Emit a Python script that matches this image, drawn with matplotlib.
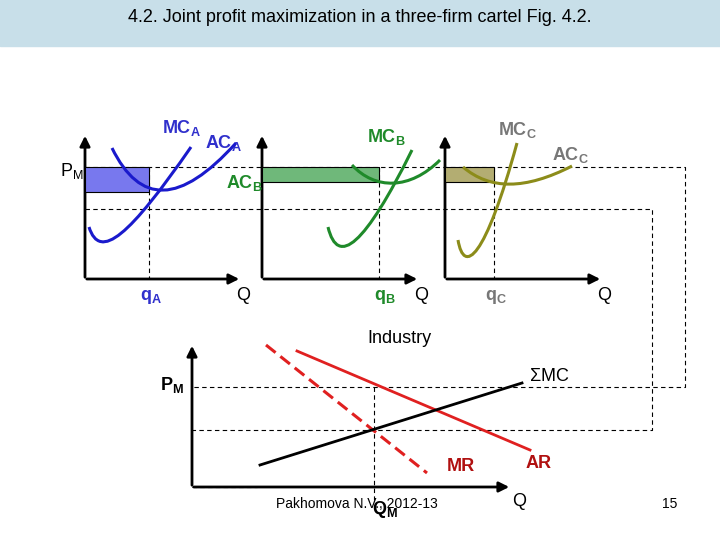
import matplotlib
matplotlib.use("Agg")
import matplotlib.pyplot as plt
from matplotlib.path import Path
from matplotlib.patches import PathPatch, Rectangle

plt.rcParams["font.family"] = ["Liberation Sans", "DejaVu Sans"]
plt.rcParams["mathtext.fontset"] = "custom"
plt.rcParams["mathtext.rm"] = "Liberation Sans"
plt.rcParams["mathtext.bf"] = "Liberation Sans:bold"

# diagram coordinates (pixels on a 720x540 slide, y downwards)
title = "4.2. Joint profit maximization in a three-firm cartel Fig. 4.2."
pm_y = 167
mc_y = 209

# firm panels: y-axis x, x-axis end, q position, box bottom, colors
firm_axis_x = [85, 262, 445]
firm_axis_end = [242, 420, 603]
firm_q = [149, 379, 494]
firm_box_bottom = [192, 182, 182]
firm_line_col = ["#1a1acc", "#1f8a2a", "#8c8c1a"]
firm_box_col = ["#7878ee", "#6fb87a", "#b3ad72"]
# cubic bezier control points: start, c1, c2, end
mc_curves = [
    [(89, 227), (100, 262), (130, 235), (191, 147)],
    [(328, 227), (338, 268), (365, 245), (412, 150)],
    [(458, 240), (464, 275), (485, 260), (517, 143)],
]
ac_curves = [
    [(112, 148), (140, 205), (180, 205), (236, 143)],
    [(352, 165), (375, 190), (410, 190), (440, 160)],
    [(463, 167), (490, 190), (525, 190), (572, 166)],
]

# industry panel
ind_axis_x = 192
ind_axis_y = 487
ind_pm_y = 387
ind_mc_y = 430
qm_x = 374
ar_line = ([297, 530], [351, 450])
mr_line = ([266, 427], [345, 473])
smc_line = ([260, 522], [465, 383])

fig = plt.figure(figsize=(7.2, 5.4), dpi=100)
ax = fig.add_axes([0, 0, 1, 1])
ax.set_xlim(0, 720)
ax.set_ylim(540, 0)
ax.axis("off")

ax.add_patch(Rectangle((0, 0), 720, 46, color="#c8dfe9", zorder=0))
ax.text(360, 18, title, ha="center", va="center", fontsize=13)

dash = dict(color="black", lw=0.8, ls=(0, (4, 3)))
arrow = dict(arrowstyle="-|>,head_length=0.6,head_width=0.3", color="black", lw=2)


def axes_arrows(x0, y0, x1, ytop):
    ax.annotate("", xy=(x0, ytop), xytext=(x0, y0 + 1), arrowprops=arrow)
    ax.annotate("", xy=(x1, y0), xytext=(x0 - 1, y0), arrowprops=arrow)


def bezier(pts, col):
    path = Path(pts, [Path.MOVETO, Path.CURVE4, Path.CURVE4, Path.CURVE4])
    ax.add_patch(PathPatch(path, fc="none", ec=col, lw=2.2, zorder=4))


# long dashed guide lines
ax.plot([85, 685, 685, ind_axis_x], [pm_y, pm_y, ind_pm_y, ind_pm_y], **dash)
ax.plot([85, 652, 652, ind_axis_x], [mc_y, mc_y, ind_mc_y, ind_mc_y], **dash)

for i in range(3):
    x0 = firm_axis_x[i]
    axes_arrows(x0, 279, firm_axis_end[i], 133)
    ax.add_patch(Rectangle((x0, pm_y), firm_q[i] - x0, firm_box_bottom[i] - pm_y,
                           fc=firm_box_col[i], ec="black", lw=0.8, zorder=3))
    ax.plot([firm_q[i], firm_q[i]], [pm_y, 279], **dash)
    bezier(ac_curves[i], firm_line_col[i])
    bezier(mc_curves[i], firm_line_col[i])

fs = 13
ax.text(162, 133, r"MC$_{\mathbf{A}}$", color="#3030cc", fontsize=fs, fontweight="bold")
ax.text(205, 148, r"AC$_{\mathbf{A}}$", color="#3030cc", fontsize=fs, fontweight="bold")
ax.text(226, 188, r"AC$_{\mathbf{B}}$", color="#1f8a2a", fontsize=fs, fontweight="bold")
ax.text(367, 142, r"MC$_{\mathbf{B}}$", color="#1f8a2a", fontsize=fs, fontweight="bold")
ax.text(498, 135, r"MC$_{\mathbf{C}}$", color="#777777", fontsize=fs, fontweight="bold")
ax.text(552, 160, r"AC$_{\mathbf{C}}$", color="#777777", fontsize=fs, fontweight="bold")
ax.text(60, 176, r"P$_{\rm M}$", fontsize=fs)
ax.text(140, 300, r"q$_{\mathbf{A}}$", color="#3030cc", fontsize=fs, fontweight="bold")
ax.text(374, 300, r"q$_{\mathbf{B}}$", color="#1f8a2a", fontsize=fs, fontweight="bold")
ax.text(485, 300, r"q$_{\mathbf{C}}$", color="#777777", fontsize=fs, fontweight="bold")
for x in [236, 414, 597]:
    ax.text(x, 300, "Q", fontsize=fs)

# industry
axes_arrows(ind_axis_x, ind_axis_y, 512, 343)
ax.plot([ind_axis_x, 257], [ind_axis_y, ind_axis_y], **dash)
ax.plot([qm_x, qm_x], [ind_pm_y, 500], **dash)
ax.plot(*ar_line, color="#e02020", lw=2)
ax.plot(*mr_line, color="#e02020", lw=2.2, ls=(0, (4, 2)))
ax.plot(*smc_line, color="black", lw=2)
ax.text(367, 343, "Industry", fontsize=13)
ax.text(160, 390, r"$\mathbf{P}_{\mathbf{M}}$", fontsize=fs)
ax.text(529, 381, r"$\Sigma$MC", fontsize=fs)
ax.text(447, 471, "MR", color="#b01010", fontsize=fs, fontweight="bold")
ax.text(526, 468, "AR", color="#b01010", fontsize=fs, fontweight="bold")
ax.text(512, 506, "Q", fontsize=fs)
ax.text(276, 508, "Pakhomova N.V., 2012-13", fontsize=10)
ax.text(372, 514, r"$\mathbf{Q}_{\mathbf{M}}$", fontsize=fs)
ax.text(662, 508, "15", fontsize=10)

fig.savefig("out.png", dpi=100)
